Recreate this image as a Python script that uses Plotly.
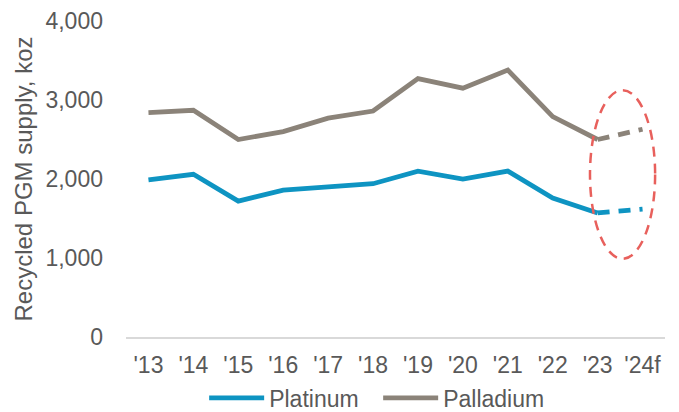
import plotly.graph_objects as go

years = ["'13", "'14", "'15", "'16", "'17", "'18", "'19", "'20", "'21", "'22", "'23", "'24f"]
platinum = [1990, 2060, 1720, 1860, 1900, 1940, 2100, 2000, 2100, 1760, 1570, 1620]
palladium = [2840, 2870, 2500, 2600, 2770, 2860, 3270, 3150, 3380, 2790, 2500, 2630]
n_actual = 11  # '13..'23 actual, '24f forecast

PT_COLOR = "#0E94C2"
PD_COLOR = "#8B8379"
FONT = "Liberation Sans, Arial, sans-serif"
TXT = "#595959"
FS = 23

fig = go.Figure()
fig.add_trace(go.Scatter(x=years[:n_actual], y=platinum[:n_actual], mode="lines",
                         name="Platinum", line=dict(color=PT_COLOR, width=4.8)))
fig.add_trace(go.Scatter(x=years[:n_actual], y=palladium[:n_actual], mode="lines",
                         name="Palladium", line=dict(color=PD_COLOR, width=4.8)))
fig.add_trace(go.Scatter(x=years[n_actual - 1:], y=platinum[n_actual - 1:], mode="lines",
                         showlegend=False, line=dict(color=PT_COLOR, width=4.8, dash="12px,9px")))
fig.add_trace(go.Scatter(x=years[n_actual - 1:], y=palladium[n_actual - 1:], mode="lines",
                         showlegend=False, line=dict(color=PD_COLOR, width=4.8, dash="12px,9px")))

# highlight ellipse around forecast
fig.add_shape(type="circle", xref="x", yref="y",
              x0=n_actual - 1 - 0.17, x1=n_actual - 1 + 1.28, y0=990, y1=3125,
              line=dict(color="#E8605C", width=2.5, dash="10px,7px"))

fig.update_layout(
    width=679, height=412,
    margin=dict(l=126, r=14, t=21, b=75, autoexpand=False),
    paper_bgcolor="white", plot_bgcolor="white",
    font=dict(family=FONT, size=FS, color=TXT),
    showlegend=True,
    legend=dict(orientation="h", x=0.145, xanchor="left", yref="container", y=0.034,
                yanchor="middle", font=dict(size=FS, color=TXT), itemwidth=55,
                entrywidth=104, entrywidthmode="pixels", tracegroupgap=0),
)
fig.update_xaxes(type="category", range=[-0.5, 11.5], showgrid=False, showline=True,
                 linecolor="#D9D9D9", linewidth=1.5, ticks="", tickfont=dict(size=FS, color=TXT),
                 zeroline=False, automargin=False, ticklabelstandoff=7)
fig.update_yaxes(range=[0, 4000], tickvals=[0, 1000, 2000, 3000, 4000], tickformat=",",
                 showgrid=False, zeroline=False, showline=False, ticks="",
                 ticklabelstandoff=22, automargin=False,
                 tickfont=dict(size=FS, color=TXT),
                 title=dict(text="Recycled PGM supply, koz", font=dict(size=24, color=TXT), standoff=6))

fig.write_html("out.html", config={"displayModeBar": False},
               post_script="document.body.style.margin='0px';")
